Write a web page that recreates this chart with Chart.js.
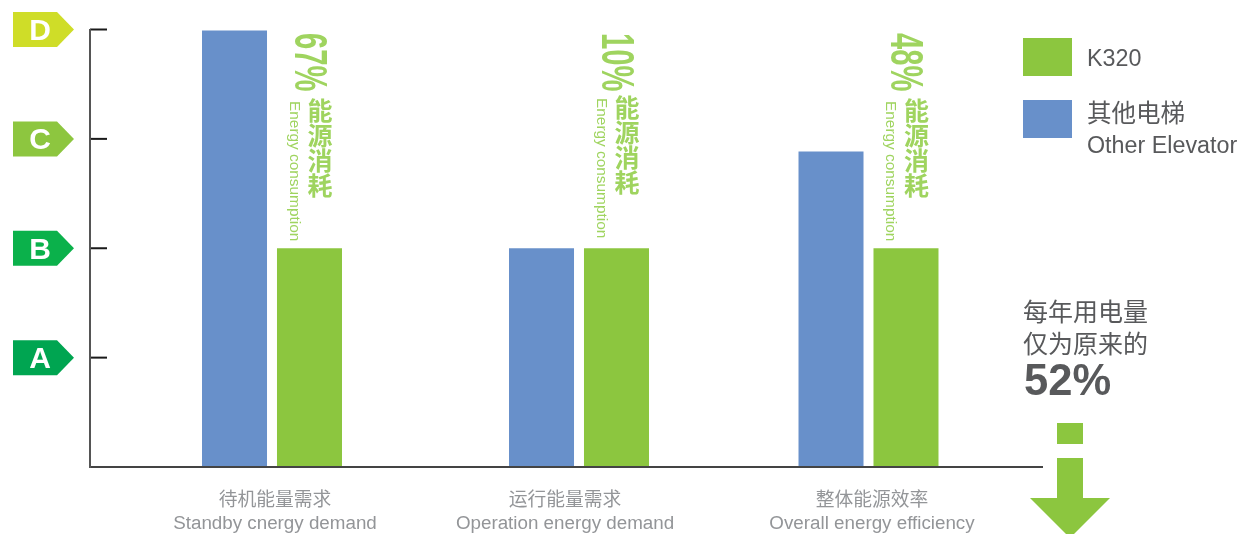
<!DOCTYPE html>
<html>
<head>
<meta charset="utf-8">
<title>K320</title>
<script src="https://cdn.jsdelivr.net/npm/chart.js@4"></script>
<style>
  html, body { margin: 0; padding: 0; background: #fff; }
  canvas { display: block; }
</style>
</head>
<body>
<canvas id="chart" width="1239" height="534"></canvas>
<script>
const categoriesZh = ["待机能量需求", "运行能量需求", "整体能源效率"];
const categoriesEn = ["Standby cnergy demand", "Operation energy demand", "Overall energy efficiency"];
const k320Values = [2, 2, 2];
const otherValues = [3.99, 2, 2.885];
const gradeLevels = [1, 2, 3, 4];
const gradeLabels = ["A", "B", "C", "D"];
const savingLabels = ["67%", "10%", "48%"];

// layout of the x axis, in px from the y axis (groups are not evenly spaced in the original)
const groupCenters = [182, 489, 778.5];
const labelCenters = [185, 475, 782];

const FONT = '"Liberation Sans", "Noto Sans CJK SC", sans-serif';
const GREEN = "#8cc63f";
const BLUE = "#6890ca";
const LIGHT_GREEN = "#9fd45f";
const DARK_TEXT = "#58595b";
const badgeColors = ["#00a551", "#0bb14b", "#8dc63f", "#cfdd28"];

function toPoints(values) {
  return values.map((v, i) => ({ x: groupCenters[i], y: v }));
}

// reads top to bottom, like the original's rotated captions
function verticalText(ctx, text, x, y, font, color, squeeze) {
  ctx.save();
  ctx.translate(x, y);
  ctx.rotate(Math.PI / 2);
  ctx.scale(squeeze || 1, 1);
  ctx.font = font;
  ctx.fillStyle = color;
  ctx.textAlign = "left";
  ctx.textBaseline = "middle";
  ctx.fillText(text, 0, 0);
  ctx.restore();
}

// upright characters stacked in a column
function stackedText(ctx, text, x, y, pitch, font, color) {
  ctx.font = font;
  ctx.fillStyle = color;
  ctx.textAlign = "center";
  ctx.textBaseline = "middle";
  Array.from(text).forEach((ch, i) => ctx.fillText(ch, x, y + pitch * (i + 0.5)));
}

const decorations = {
  id: "decorations",
  beforeDatasetsDraw(chart) {
    const { ctx, scales } = chart;
    // grade badges with their letters, inner ticks on the axis
    gradeLevels.forEach((level, i) => {
      const y = scales.y.getPixelForValue(level);
      ctx.fillStyle = badgeColors[i];
      ctx.beginPath();
      ctx.moveTo(13, y - 17.5);
      ctx.lineTo(57, y - 17.5);
      ctx.lineTo(74, y);
      ctx.lineTo(57, y + 17.5);
      ctx.lineTo(13, y + 17.5);
      ctx.closePath();
      ctx.fill();
      ctx.fillStyle = "#ffffff";
      ctx.font = "bold 30px " + FONT;
      ctx.textAlign = "center";
      ctx.textBaseline = "middle";
      ctx.fillText(gradeLabels[i], 40, y + 2);
      ctx.fillStyle = "#1a1a1a";
      ctx.fillRect(scales.x.left, y - 1, 17, 2);
    });
  },
  afterDraw(chart) {
    const { ctx } = chart;

    // rotated captions next to each green bar
    const greenBars = chart.getDatasetMeta(1).data;
    const captionTops = [100, 97, 100];
    greenBars.forEach((bar, i) => {
      verticalText(ctx, savingLabels[i], bar.x - 2, 33, "bold 47px " + FONT, LIGHT_GREEN, 0.62);
      stackedText(ctx, "能源消耗", bar.x + 10.5, captionTops[i] + 0.5, 25, "bold 25px " + FONT, LIGHT_GREEN);
      verticalText(ctx, "Energy consumption", bar.x - 15.5, captionTops[i] + 1, "15.4px " + FONT, LIGHT_GREEN);
    });

    // legend
    ctx.fillStyle = GREEN;
    ctx.fillRect(1023, 38, 49, 38);
    ctx.fillStyle = BLUE;
    ctx.fillRect(1023, 100, 49, 38);
    ctx.fillStyle = DARK_TEXT;
    ctx.textAlign = "left";
    ctx.textBaseline = "middle";
    ctx.font = "23.3px " + FONT;
    ctx.fillText(chart.data.datasets[1].label, 1087, 60);
    ctx.fillText(chart.data.datasets[0].label, 1087, 147);
    ctx.font = "24.5px " + FONT;
    ctx.fillText("其他电梯", 1087, 115);

    // yearly usage note
    ctx.font = "25px " + FONT;
    ctx.fillText("每年用电量", 1023, 314);
    ctx.fillText("仅为原来的", 1023, 346);
    ctx.font = "bold 43.5px " + FONT;
    ctx.fillText("52%", 1024, 383);

    // down arrow
    ctx.fillStyle = GREEN;
    ctx.fillRect(1057, 423, 26, 21);
    ctx.fillRect(1057, 458, 26, 41);
    ctx.beginPath();
    ctx.moveTo(1030, 498);
    ctx.lineTo(1110, 498);
    ctx.lineTo(1070, 538);
    ctx.closePath();
    ctx.fill();
  },
};

new Chart(document.getElementById("chart"), {
  type: "bar",
  data: {
    datasets: [
      { label: "Other Elevator", data: toPoints(otherValues), backgroundColor: BLUE },
      { label: "K320", data: toPoints(k320Values), backgroundColor: GREEN },
    ],
  },
  plugins: [decorations],
  options: {
    responsive: false,
    animation: false,
    barPercentage: 0.867,
    categoryPercentage: 0.518,
    layout: { autoPadding: false, padding: { top: 29.5, right: 197, left: 0, bottom: 0 } },
    plugins: { legend: { display: false }, tooltip: { enabled: false } },
    scales: {
      x: {
        type: "linear",
        offset: false,
        min: 0,
        max: 952,
        afterFit(scale) { scale.height = 67; },
        afterBuildTicks(scale) { scale.ticks = labelCenters.map((value) => ({ value })); },
        border: { color: "#444", width: 2, z: 1 },
        grid: { display: false, drawTicks: false },
        ticks: {
          autoSkip: false,
          maxRotation: 0,
          padding: 23,
          color: "#939598",
          font: { family: FONT, size: 18.8 },
          callback: (value, i) => [categoriesZh[i], categoriesEn[i]],
        },
      },
      y: {
        min: 0,
        max: 4,
        afterFit(scale) { scale.width = 90; },
        afterBuildTicks(scale) { scale.ticks = gradeLevels.map((value) => ({ value })); },
        border: { color: "#555", width: 2, z: 1 },
        grid: { drawOnChartArea: false, drawTicks: false },
        ticks: { display: false },
      },
    },
  },
});
</script>
</body>
</html>
